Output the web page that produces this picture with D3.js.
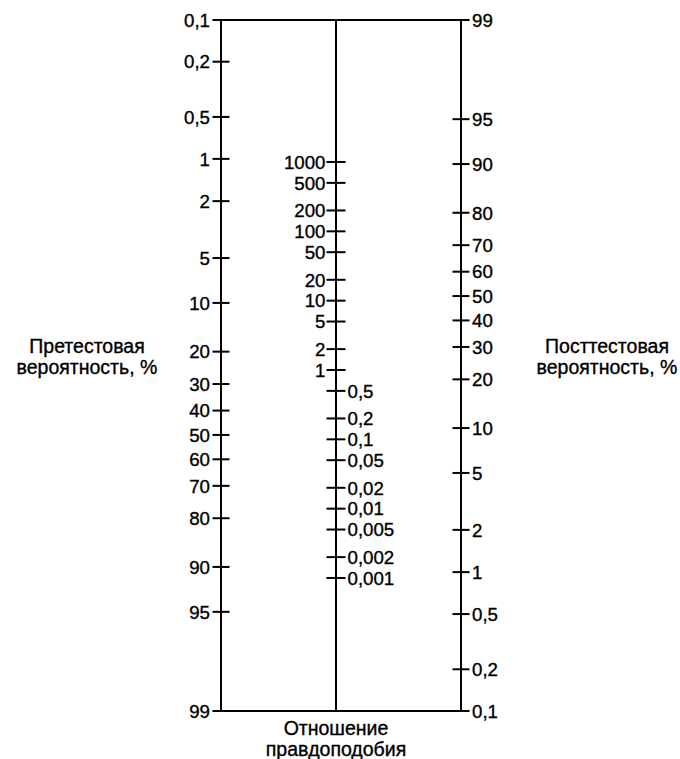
<!DOCTYPE html>
<html><head><meta charset="utf-8">
<script src="https://cdn.jsdelivr.net/npm/d3@7"></script>
<style>body{margin:0;background:#fff}svg{display:block}text{font-family:"Liberation Sans",Arial,sans-serif;fill:#000;stroke:#000;stroke-width:0.35px}</style>
</head><body><div id="chart"></div>
<script>
const preTicks = [0.1,0.2,0.5,1,2,5,10,20,30,40,50,60,70,80,90,95,99];
const lrTicks = [1000,500,200,100,50,20,10,5,2,1,0.5,0.2,0.1,0.05,0.02,0.01,0.005,0.002,0.001];
const postTicks = [99,95,90,80,70,60,50,40,30,20,10,5,2,1,0.5,0.2,0.1];
const leftTitle = ["Претестовая","вероятность, %"];
const rightTitle = ["Посттестовая","вероятность, %"];
const midTitle = ["Отношение","правдоподобия"];

(function(){
const W=680,H=759;
const svg=d3.select("#chart").append("svg").attr("width",W).attr("height",H);
const logit=p=>Math.log(p/(100-p));
const fmt=v=>String(v).replace(".",",");
const xL=221,xM=336,xR=461,yTop=20,yBot=711,tk=8.5,fs=18.7,fsT=19.5;
const yPre=d3.scaleLinear().domain([logit(0.1),logit(99)]).range([yTop,yBot]);
const yPost=d3.scaleLinear().domain([logit(99),logit(0.1)]).range([yTop,yBot]);
const yLR=d3.scaleLog().domain([1000,0.001]).range([162,578]);

const g=svg.append("g").attr("stroke","#000").attr("stroke-width",2).attr("fill","none");
g.append("line").attr("x1",xL-tk).attr("x2",xR+tk).attr("y1",yPre(logit(0.1))).attr("y2",yPre(logit(0.1)));
g.append("line").attr("x1",xL-tk).attr("x2",xR+tk).attr("y1",yPre(logit(99))).attr("y2",yPre(logit(99)));
[xL,xM,xR].forEach(x=>g.append("line").attr("x1",x).attr("x2",x).attr("y1",yTop).attr("y2",yBot));

preTicks.forEach(v=>{
  const y=yPre(logit(v));
  const ends=(v===0.1||v===99);
  if(!ends) g.append("line").attr("x1",xL-tk).attr("x2",xL+tk).attr("y1",y).attr("y2",y);
  svg.append("text").attr("x",xL-tk-2.5).attr("y",y).attr("dy","0.36em").attr("text-anchor","end").attr("font-size",fs).text(fmt(v));
});
postTicks.forEach(v=>{
  const y=yPost(logit(v));
  const ends=(v===0.1||v===99);
  if(!ends) g.append("line").attr("x1",xR-tk).attr("x2",xR+tk).attr("y1",y).attr("y2",y);
  svg.append("text").attr("x",xR+tk+2.5).attr("y",y).attr("dy","0.36em").attr("text-anchor","start").attr("font-size",fs).text(fmt(v));
});
lrTicks.forEach(v=>{
  const y=yLR(v);
  g.append("line").attr("x1",xM-tk-1).attr("x2",xM+tk+1).attr("y1",y).attr("y2",y);
  const left=v>=1;
  svg.append("text").attr("x",left?xM-tk-2:xM+tk+3).attr("y",y).attr("dy","0.36em")
    .attr("text-anchor",left?"end":"start").attr("font-size",fs).text(fmt(v));
});
function title(lines,x,y,gap){
  lines.forEach((s,i)=>svg.append("text").attr("text-anchor","middle").attr("font-size",fsT)
    .attr("x",x).attr("y",y+i*gap).text(s));
}
title(leftTitle,87,353,21);
title(rightTitle,607,353,21);
title(midTitle,336,735,21);
})();
</script></body></html>
